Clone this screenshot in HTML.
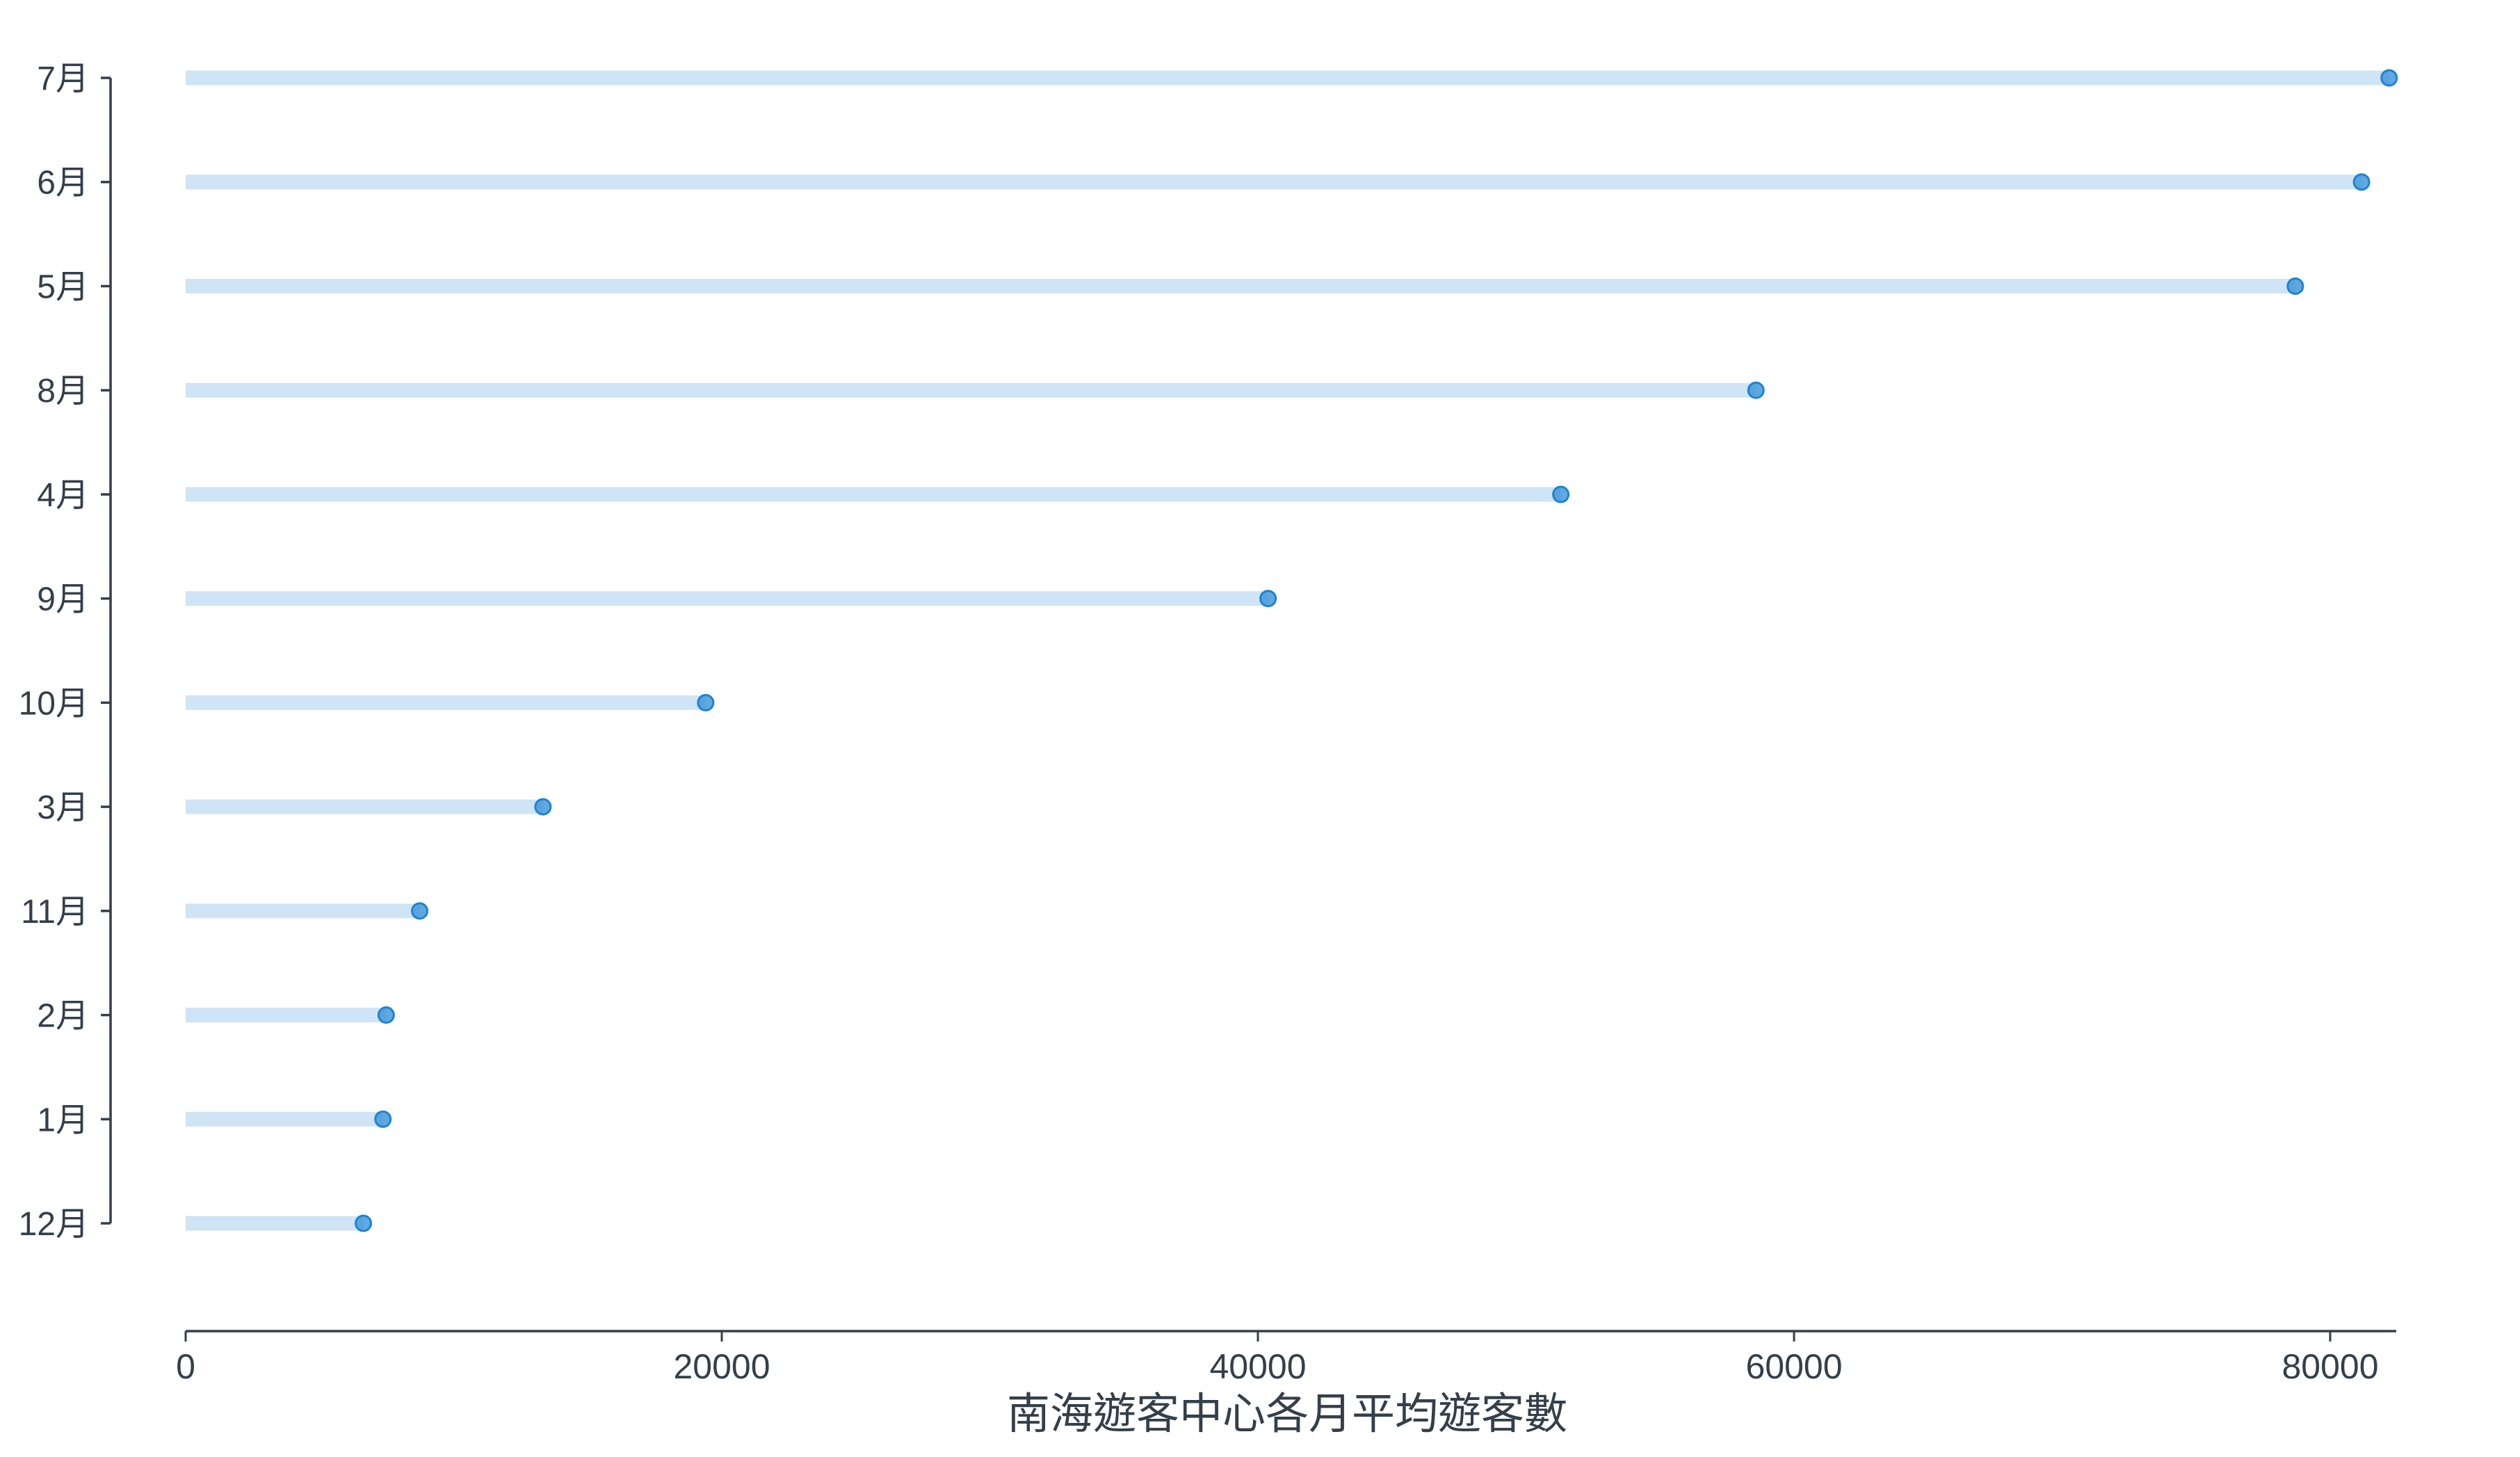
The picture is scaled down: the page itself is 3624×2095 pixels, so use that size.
<!DOCTYPE html>
<html><head><meta charset="utf-8">
<style>
html,body{margin:0;padding:0;background:#fff;}
svg{display:block;}
text{font-family:"Liberation Sans","Noto Sans CJK TC",sans-serif;fill:#333f4b;}
</style></head>
<body>
<svg id="chart" width="3624" height="2095" viewBox="0 0 3624 2095" xmlns="http://www.w3.org/2000/svg">
<g id="axes"></g>
<g id="marks"></g>
<text x="1851" y="2054" font-size="62" text-anchor="middle">南海遊客中心各月平均遊客數</text>
</svg>
<script>
const categories = ["7月","6月","5月","8月","4月","9月","10月","3月","11月","2月","1月","12月"];
const values = [82200,81170,78700,58580,51300,40380,19400,13330,8730,7480,7360,6630];
const xTicks = [0,20000,40000,60000,80000];

const NS = "http://www.w3.org/2000/svg";
const x0 = 267, xPer = (1809 - 267) / 40000;
const yTop = 112, yBottom = 1759;
const xScale = v => x0 + v * xPer;
const yScale = i => yTop + i * (yBottom - yTop) / (categories.length - 1);
function mk(tag, attrs, parent) {
  const e = document.createElementNS(NS, tag);
  for (const k in attrs) e.setAttribute(k, attrs[k]);
  parent.appendChild(e);
  return e;
}
const axes = document.getElementById('axes');
const marks = document.getElementById('marks');
const col = "#333f4b";

const yl = mk('line', {x1:159, y1:yTop, x2:159, y2:yBottom, stroke:col, 'stroke-width':3.5}, axes);


categories.forEach((c, i) => {
  const y = yScale(i);
  const t = mk('line', {x1:145, y1:y, x2:159, y2:y, stroke:col, 'stroke-width':3.5}, axes);
  
  
  const lb = mk('text', {x:128, y:y + 17, 'font-size':48, 'text-anchor':'end'}, axes);
  lb.textContent = c;
  
  
});

const xl = mk('line', {x1:x0, y1:1914, x2:3446, y2:1914, stroke:col, 'stroke-width':3.5}, axes);


xTicks.forEach(v => {
  const x = xScale(v);
  const t = mk('line', {x1:x, y1:1914, x2:x, y2:1929, stroke:col, 'stroke-width':3}, axes);
  
  
  const lb = mk('text', {x:x, y:1982, 'font-size':50, 'text-anchor':'middle'}, axes);
  lb.textContent = String(v);
  
  
});

values.forEach((v, i) => {
  const y = yScale(i);
  const r = mk('rect', {x:x0, y:y - 10.5, width:xScale(v) - x0, height:21, fill:'#cfe4f4'}, marks);
  
  
  const d = mk('circle', {cx:xScale(v), cy:y, r:11, fill:'rgba(58,146,216,0.8)', stroke:'#1f83d0', 'stroke-width':3}, marks);
  
  
});
</script>
</body></html>
